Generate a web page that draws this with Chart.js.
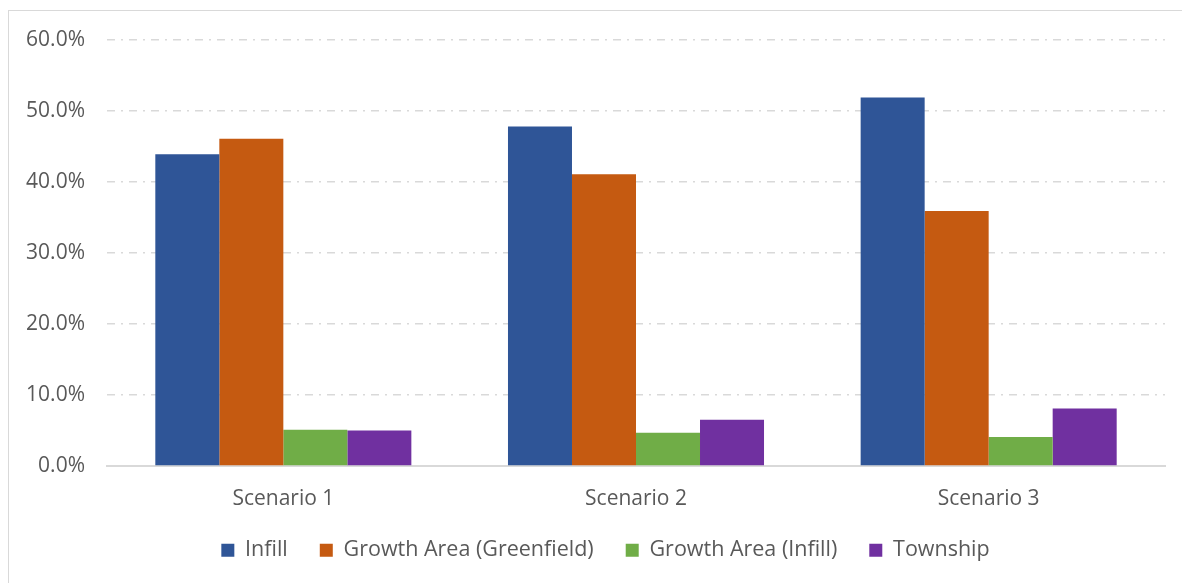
<!DOCTYPE html>
<html lang="en">
<head>
  <meta charset="UTF-8">
  <title>Share of dwellings by location</title>
  <script src="https://cdn.jsdelivr.net/npm/chart.js"></script>
  <style>
    html, body {
      margin: 0;
      padding: 0;
      background: #fff;
      overflow: hidden;
    }
    /* light frame round the chart, right and bottom edges run off the page */
    #frame {
      position: absolute;
      left: 8px;
      top: 10px;
      width: 2000px;
      height: 2000px;
      border-left: 1px solid #d9d9d9;
      border-top: 1px solid #d9d9d9;
    }
    #chart {
      position: absolute;
      left: 0;
      top: 0;
    }
  </style>
</head>
<body>
  <div id="frame"></div>
  <canvas id="chart" width="1182" height="583"></canvas>

  <script>
    // scenarios and the share of each location type (%)
    const scenarios = ["Scenario 1", "Scenario 2", "Scenario 3"];
    const infill = [43.9, 47.8, 51.9];
    const growthGreenfield = [46.1, 41.1, 35.9];
    const growthInfill = [5.1, 4.7, 4.1];
    const township = [5.0, 6.5, 8.1];

    const yMax = 60;
    const yStep = 10;

    const textColor = "#595959";
    const lineColor = "#d9d9d9";

    Chart.defaults.font.family = "'Open Sans', 'Noto Sans', sans-serif";
    Chart.defaults.font.size = 21;
    Chart.defaults.color = textColor;

    // nudge the legend row a little to the right of the full-width box
    const legendShift = {
      id: "legendShift",
      afterLayout(chart) {
        chart.legend.left += 10;
        chart.legend.right += 10;
      }
    };

    new Chart(document.getElementById("chart"), {
      type: "bar",
      data: {
        labels: scenarios,
        datasets: [
          { label: "Infill", data: infill, backgroundColor: "#2f5597" },
          { label: "Growth Area (Greenfield)", data: growthGreenfield, backgroundColor: "#c55a11" },
          { label: "Growth Area (Infill)", data: growthInfill, backgroundColor: "#70ad47" },
          { label: "Township", data: township, backgroundColor: "#7030a0" }
        ]
      },
      plugins: [legendShift],
      options: {
        responsive: false,
        animation: false,
        devicePixelRatio: 1,
        categoryPercentage: 0.726,
        barPercentage: 1,
        layout: {
          padding: { left: 26, right: 17, top: 40, bottom: 12 }
        },
        plugins: {
          tooltip: { enabled: false },
          legend: {
            position: "bottom",
            labels: {
              boxWidth: 13,
              boxHeight: 13,
              padding: 32,
              color: textColor,
              font: { size: 21.5 }
            }
          }
        },
        scales: {
          x: {
            grid: { display: false, drawTicks: false },
            border: { display: true, color: lineColor, width: 2 },
            ticks: { padding: 20, color: textColor },
            afterFit: s => { s.height = 41.5; }
          },
          y: {
            min: 0,
            max: yMax,
            grid: {
              color: lineColor,
              lineWidth: 1.5,
              drawTicks: false
            },
            border: {
              display: false,
              // dash-dot gridlines, plain line at zero
              dash: ctx => (ctx.tick && ctx.tick.value === 0) ? [] : [8, 6, 2, 6]
            },
            ticks: {
              stepSize: yStep,
              padding: 22,
              color: textColor,
              callback: v => v.toFixed(1) + "%"
            },
            afterFit: s => { s.width = 81; }
          }
        }
      }
    });
  </script>
</body>
</html>
